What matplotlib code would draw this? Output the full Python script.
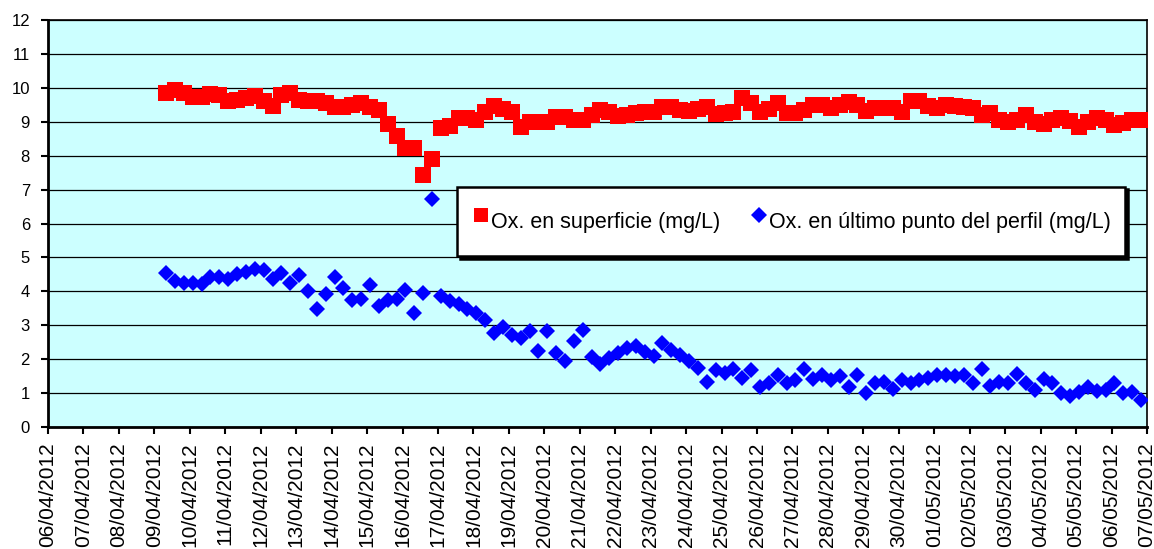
import numpy as np
import pandas as pd
import matplotlib
matplotlib.use("Agg")
import matplotlib.pyplot as plt
import matplotlib.dates as mdates

plt.rcParams['font.family'] = ['Liberation Sans', 'DejaVu Sans']

# sampling: one reading every 6 hours starting 09/04/2012 08:00
start_time = "2012-04-09 08:00"
step = "6h"

# Ox. en superficie (mg/L)
superficie = [
    9.85, 9.95, 9.85, 9.72, 9.72, 9.82, 9.78, 9.60, 9.65, 9.70,
    9.75, 9.60, 9.48, 9.80, 9.85, 9.65, 9.60, 9.60, 9.55, 9.45,
    9.45, 9.50, 9.55, 9.45, 9.35, 8.94, 8.57, 8.24, 8.22, 7.44,
    7.90, 8.83, 8.89, 9.10, 9.10, 9.05, 9.28, 9.46, 9.38, 9.30,
    8.85, 8.98, 9.00, 8.98, 9.13, 9.13, 9.05, 9.05, 9.20, 9.36,
    9.28, 9.18, 9.20, 9.25, 9.28, 9.30, 9.44, 9.45, 9.35, 9.33,
    9.37, 9.45, 9.24, 9.25, 9.30, 9.70, 9.55, 9.30, 9.37, 9.55,
    9.27, 9.27, 9.35, 9.50, 9.50, 9.40, 9.50, 9.57, 9.50, 9.31,
    9.40, 9.40, 9.40, 9.30, 9.60, 9.60, 9.47, 9.40, 9.50, 9.47,
    9.43, 9.40, 9.20, 9.27, 9.05, 8.98, 9.05, 9.20, 9.00, 8.93,
    9.05, 9.10, 9.02, 8.85, 9.00, 9.10, 9.05, 8.90, 8.95, 9.05,
    9.05,
]

# Ox. en último punto del perfil (mg/L)
perfil = [
    4.53, 4.30, 4.26, 4.26, 4.23, 4.43, 4.43, 4.37, 4.50, 4.57,
    4.65, 4.63, 4.37, 4.53, 4.24, 4.47, 4.00, 3.47, 3.91, 4.43,
    4.10, 3.74, 3.76, 4.18, 3.57, 3.74, 3.76, 4.04, 3.35, 3.94,
    6.72, 3.86, 3.71, 3.62, 3.47, 3.37, 3.17, 2.76, 2.96, 2.70,
    2.63, 2.83, 2.24, 2.82, 2.17, 1.94, 2.55, 2.86, 2.06, 1.85,
    2.04, 2.18, 2.34, 2.40, 2.22, 2.10, 2.47, 2.28, 2.13, 1.96,
    1.73, 1.34, 1.68, 1.59, 1.70, 1.44, 1.68, 1.17, 1.31, 1.54,
    1.29, 1.39, 1.70, 1.41, 1.54, 1.39, 1.49, 1.19, 1.54, 1.00,
    1.31, 1.34, 1.11, 1.39, 1.29, 1.39, 1.44, 1.54, 1.54, 1.51,
    1.54, 1.29, 1.70, 1.21, 1.34, 1.29, 1.57, 1.31, 1.09, 1.41,
    1.29, 1.01, 0.90, 1.04, 1.19, 1.07, 1.09, 1.31, 1.00, 1.04,
    0.80,
]

label_sup = "Ox. en superficie (mg/L)"
label_perf = "Ox. en último punto del perfil (mg/L)"

times = pd.date_range(start_time, periods=len(superficie), freq=step)

fig = plt.figure(figsize=(11.54, 5.49), dpi=100)
ax = fig.add_axes([0.0416, 0.2222, 0.9523, 0.7413])
ax.set_facecolor("#CCFFFF")

ax.plot(times, superficie, linestyle="none", marker="s", markersize=11.3,
        color="#FF0000", markeredgewidth=0, label=label_sup, zorder=3)
ax.plot(times, perfil, linestyle="none", marker="D", markersize=8.2,
        color="#0000FF", markeredgewidth=0, label=label_perf, zorder=3)

ax.set_ylim(0, 12)
ax.set_yticks(range(0, 13))
ax.set_xlim(pd.Timestamp("2012-04-06"), pd.Timestamp("2012-05-07"))
ax.xaxis.set_major_locator(mdates.DayLocator())
ax.xaxis.set_major_formatter(mdates.DateFormatter("%d/%m/%Y"))
ax.grid(axis="y", color="black", linewidth=0.9, zorder=1)
ax.set_axisbelow(True)

ax.tick_params(axis="y", labelsize=12, length=5, width=1.5, pad=8)
ax.tick_params(axis="x", labelsize=15, length=5, width=1.5, pad=6,
               labelrotation=90)
for side in ["top", "right"]:
    ax.spines[side].set_linewidth(1.2)
    ax.spines[side].set_color("black")
for side in ["left", "bottom"]:
    ax.spines[side].set_linewidth(2)

leg = ax.legend(loc="center", bbox_to_anchor=(0.6765, 0.505),
                ncol=2, fontsize=15.5, frameon=True,
                fancybox=False, edgecolor="black", facecolor="white",
                framealpha=1, borderpad=0.7, borderaxespad=0,
                handleheight=2.45, handletextpad=0.05, handlelength=0.8,
                columnspacing=1.4, markerscale=0.95,
                shadow={"color": "black", "alpha": 1})
leg.get_frame().set_linewidth(1.8)

fig.savefig("out.png", dpi=100)
